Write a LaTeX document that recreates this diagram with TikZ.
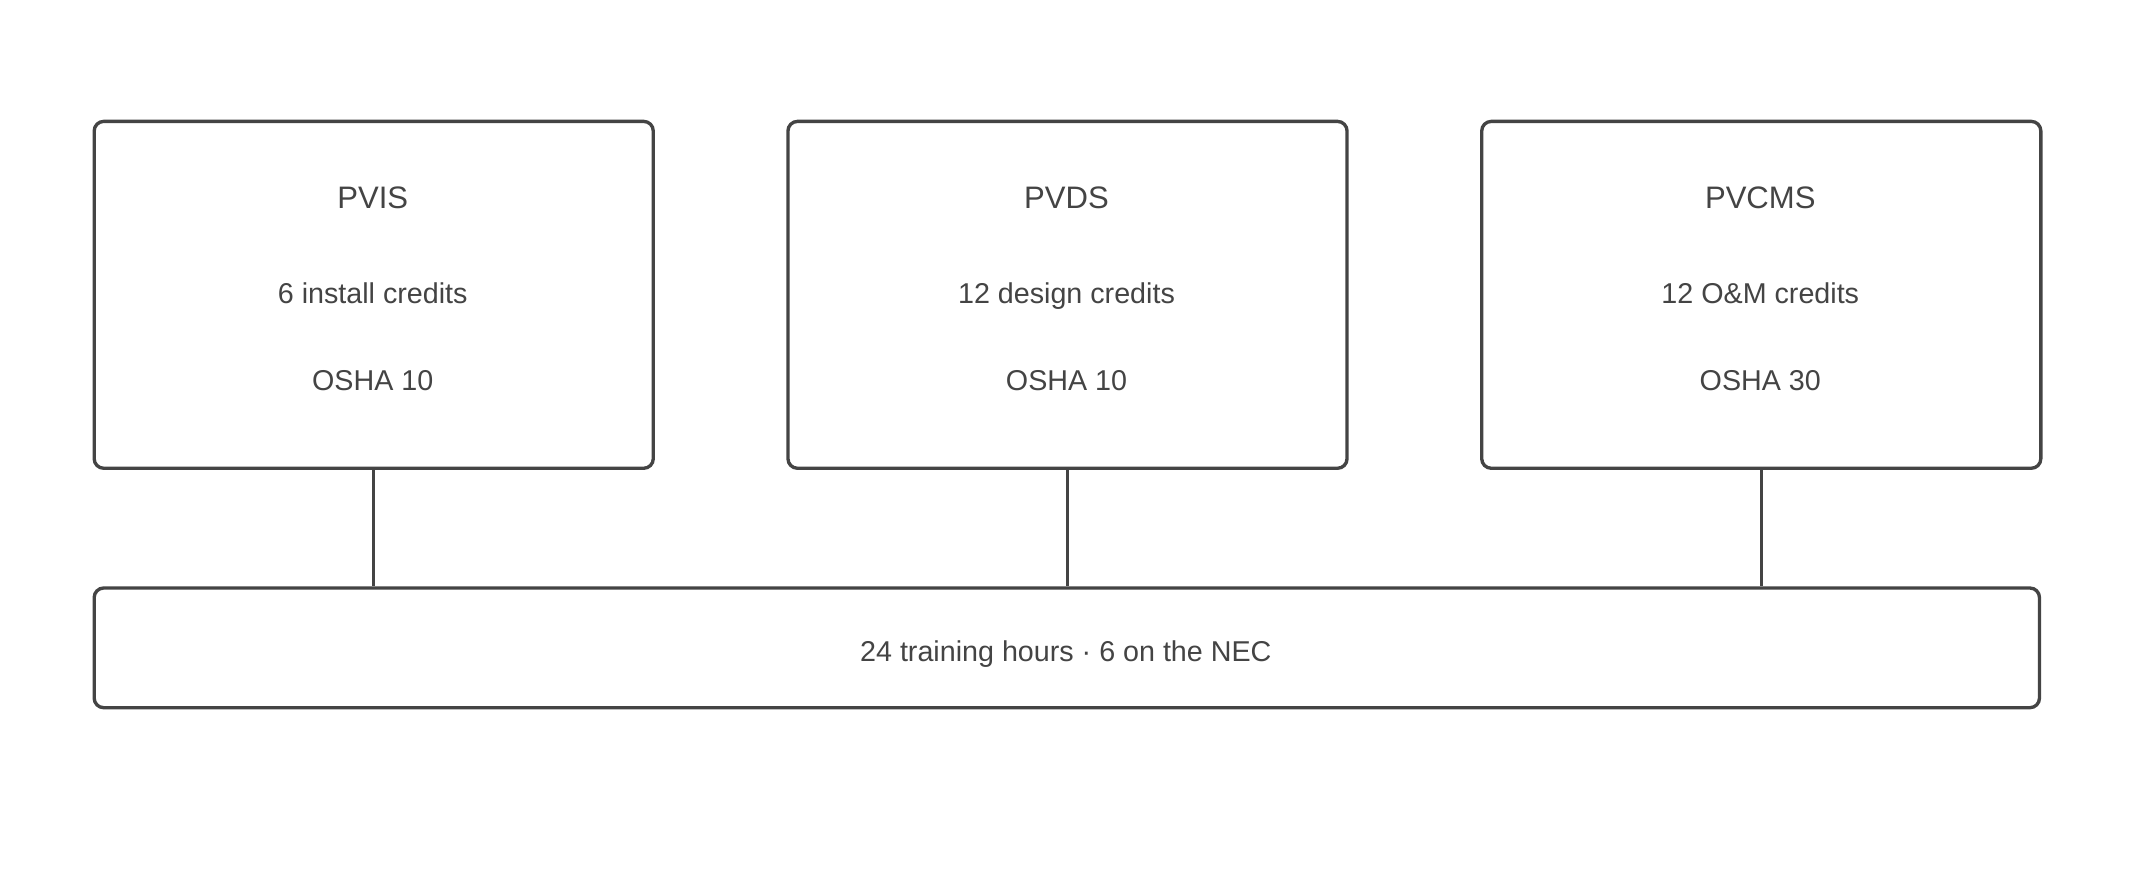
\documentclass[tikz,border=0pt]{standalone}
\usepackage{fontspec}
\setmainfont{Liberation Sans}
\begin{document}
\begin{tikzpicture}[x=0.02cm,y=-0.02cm,
  box/.style={draw=ink,line width=1.4pt,rounded corners=4pt,fill=white},
  txt/.style={text=ink,font=\fontsize{12}{14}\selectfont,text height=1.5ex,text depth=0.4ex},
  link/.style={draw=ink,line width=1.4pt}]
\definecolor{ink}{HTML}{444444}
\useasboundingbox (0,0) rectangle (1568,647);
\foreach \n/\x/\t/\a/\b in {a/68/PVIS/6 install credits/OSHA 10, b/578/PVDS/12 design credits/OSHA 10, c/1088/PVCMS/12 O\&M credits/OSHA 30}{
  \node[box,minimum width=411*0.02cm,minimum height=255*0.02cm,anchor=north west] (\n) at (\x,88) {};
  \node[txt,font=\fontsize{13}{15}\selectfont] (\n t) at (\x+206,148) {\t};
  \node[txt] (\n 1) at (\x+206,218) {\a};
  \node[txt] (\n 2) at (\x+206,282) {\b};
}
\node[box,minimum width=1430*0.02cm,minimum height=88*0.02cm,anchor=north west] (base) at (68,431) {};
\node[txt] (bt) at (783.5,481) {24 training hours · 6 on the NEC};
\foreach \n in {a,b,c}{\draw[link] (\n.south) -- (\n.south |- base.north);}
\end{tikzpicture}
\end{document}
